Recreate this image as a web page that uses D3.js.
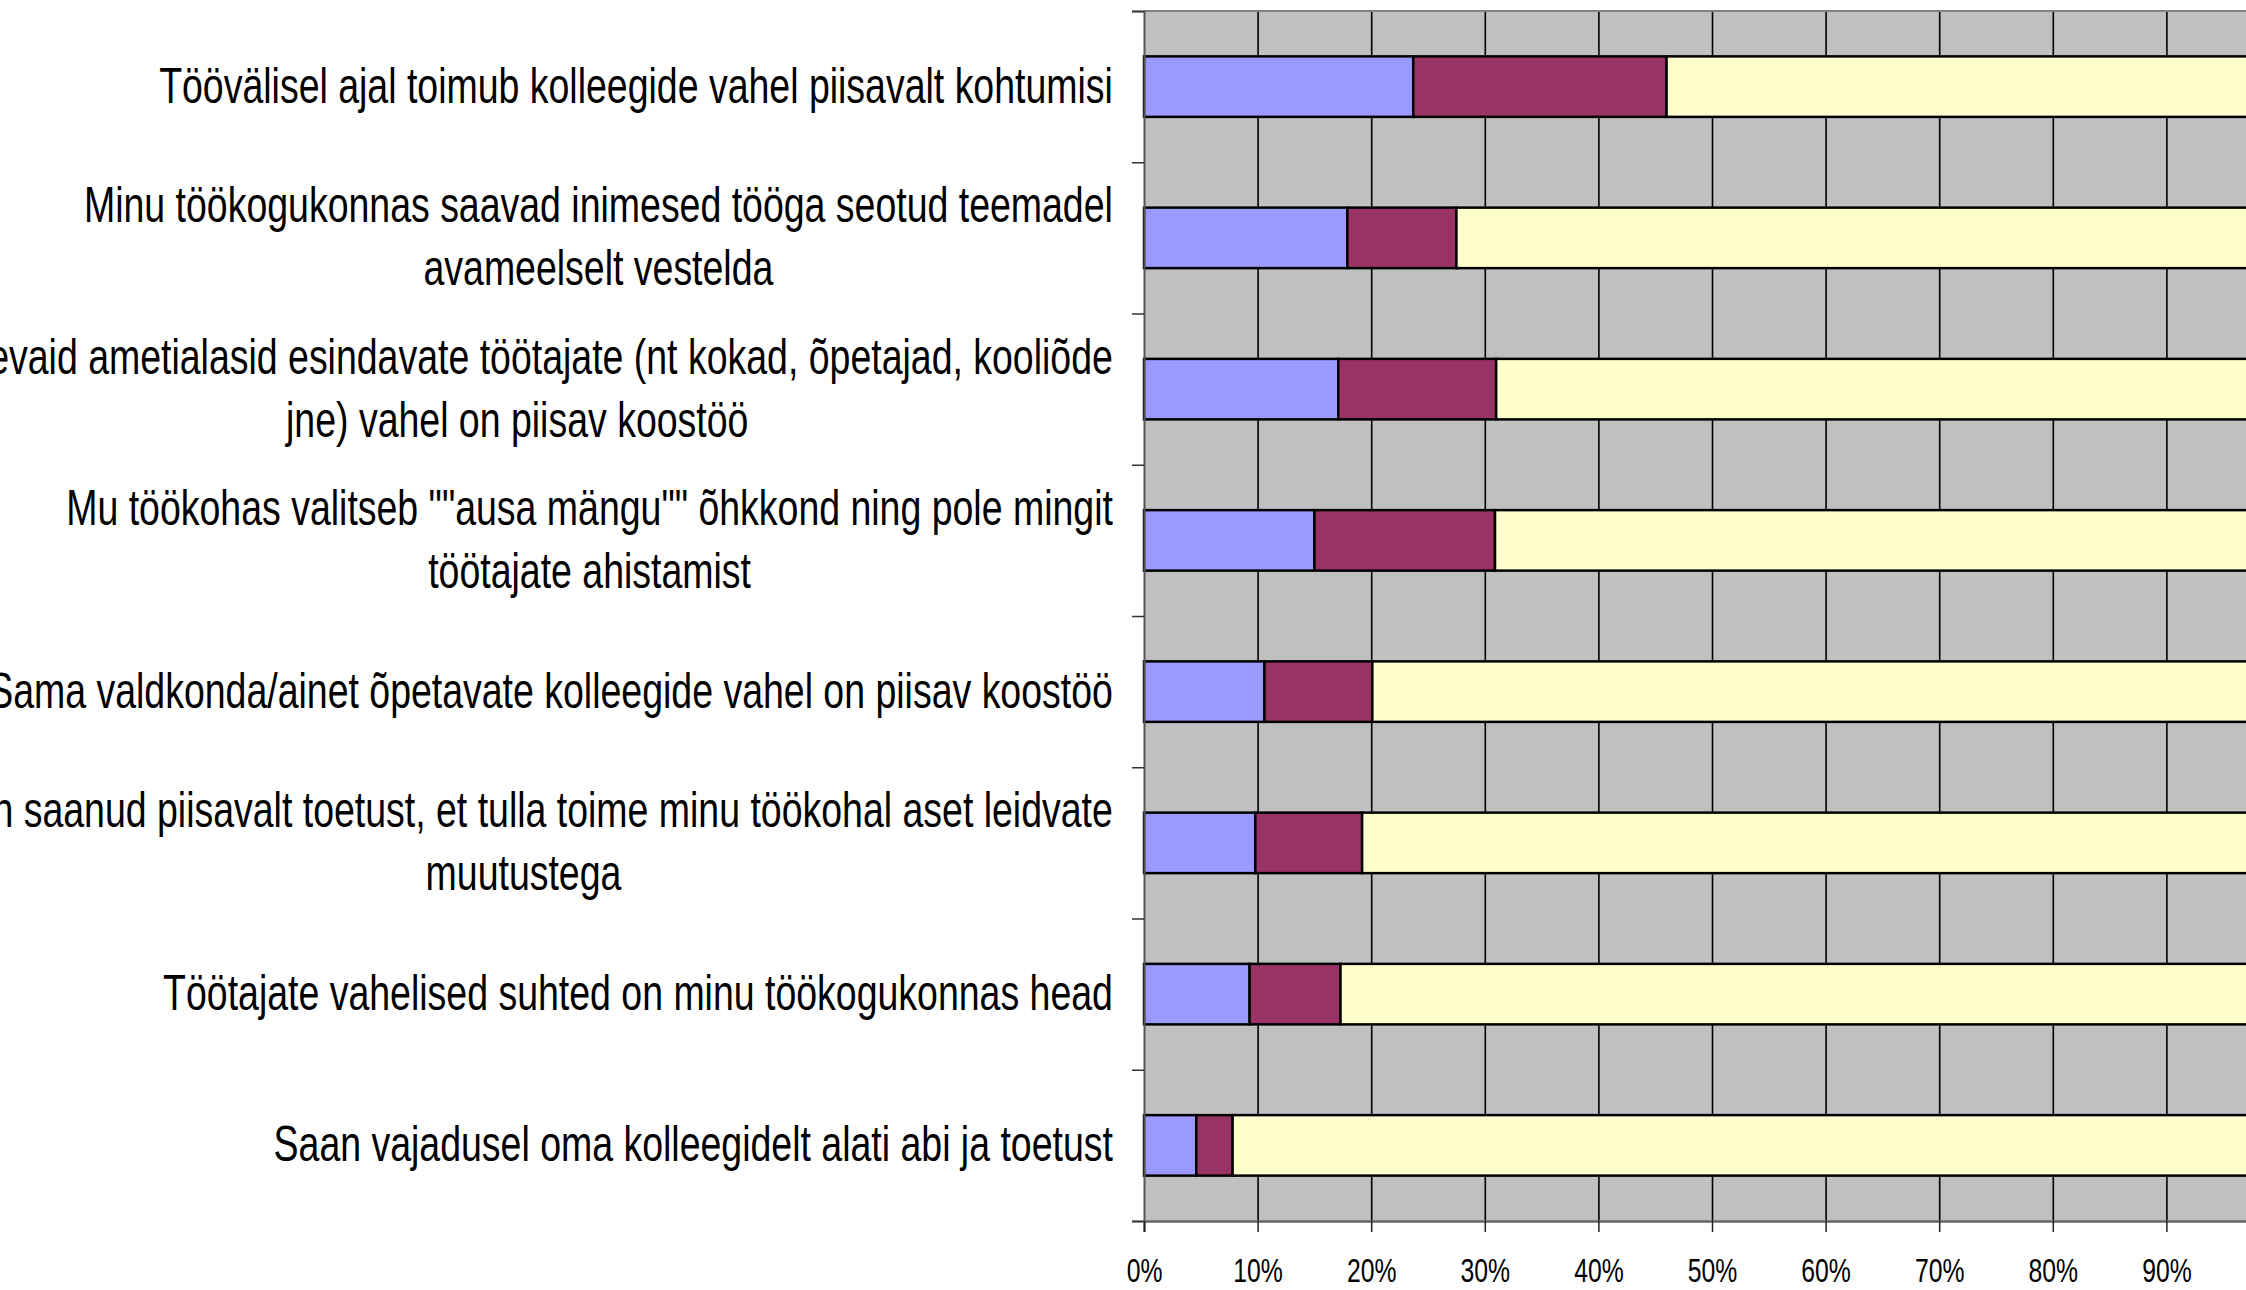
<!DOCTYPE html>
<html>
<head>
<meta charset="utf-8">
<script src="https://cdn.jsdelivr.net/npm/d3@7"></script>
<style>
  html, body { margin: 0; padding: 0; background: #fff; }
  svg { display: block; }
</style>
</head>
<body>
<svg id="chart" width="2246" height="1290"></svg>
<script>
// Values, in percent, top row first.
var categories = [
  "Töövälisel ajal toimub kolleegide vahel piisavalt kohtumisi",
  "Minu töökogukonnas saavad inimesed tööga seotud teemadel\navameelselt vestelda",
  "Erinevaid ametialasid esindavate töötajate (nt kokad, õpetajad, kooliõde\njne) vahel on piisav koostöö",
  "Mu töökohas valitseb \"\"ausa mängu\"\" õhkkond ning pole mingit\ntöötajate ahistamist",
  "Sama valdkonda/ainet õpetavate kolleegide vahel on piisav koostöö",
  "Olen saanud piisavalt toetust, et tulla toime minu töökohal aset leidvate\nmuutustega",
  "Töötajate vahelised suhted on minu töökogukonnas head",
  "Saan vajadusel oma kolleegidelt alati abi ja toetust"
];
var disagree = [23.7, 17.9, 17.1, 15.0, 10.6, 9.8, 9.3, 4.6];
var neutral  = [22.3, 9.6, 13.9, 15.9, 9.5, 9.4, 8.0, 3.2];
var agree    = [54.0, 72.5, 69.0, 69.1, 79.9, 80.8, 82.7, 92.2];
var seriesKeys = ["disagree", "neutral", "agree"];
var seriesColors = ["#9999ff", "#993366", "#ffffcc"];
// the 100% tick falls past the right edge of the picture
var tickValues = [0, 10, 20, 30, 40, 50, 60, 70, 80, 90];

var rows = categories.map(function(c, i) {
  return {category: c, disagree: disagree[i], neutral: neutral[i], agree: agree[i]};
});

var svg = d3.select("#chart");
var plotL = 1144, plotT = 11, plotR = 2280, plotB = 1221;

var x = d3.scaleLinear().domain([0, 100]).range([plotL, plotR]);
var y = d3.scaleBand()
    .domain(categories)
    .range([plotT, plotB])
    .paddingInner(0.6)
    .paddingOuter(0.3);
var yIdx = d3.scaleLinear().domain([0, categories.length]).range([plotT, plotB]);
var z = d3.scaleOrdinal().domain(seriesKeys).range(seriesColors);

// plot area
svg.append("rect")
    .attr("x", plotL).attr("y", plotT)
    .attr("width", plotR - plotL).attr("height", plotB - plotT)
    .attr("fill", "#c0c0c0");

// vertical gridlines
svg.append("g")
    .attr("transform", "translate(0," + plotT + ")")
    .call(d3.axisBottom(x).tickValues(tickValues.slice(1)).tickSize(plotB - plotT).tickFormat(""))
    .call(function(g) {
      g.select(".domain").remove();
      g.selectAll(".tick line").attr("stroke", "#000").attr("stroke-width", 1.6);
    });

// top border
svg.append("line")
    .attr("x1", plotL).attr("x2", plotR)
    .attr("y1", plotT).attr("y2", plotT)
    .attr("stroke", "#808080").attr("stroke-width", 2);

// stacked bars
var stack = d3.stack().keys(seriesKeys);
svg.append("g")
  .selectAll("g")
  .data(stack(rows))
  .enter().append("g")
    .attr("fill", function(d) { return z(d.key); })
  .selectAll("rect")
  .data(function(d) { return d; })
  .enter().append("rect")
    .attr("x", function(d) { return x(d[0]); })
    .attr("y", function(d) { return y(d.data.category); })
    .attr("width", function(d) { return x(d[1]) - x(d[0]); })
    .attr("height", y.bandwidth())
    .attr("stroke", "#000")
    .attr("stroke-width", 2.5);

// left axis: ticks at band boundaries
svg.append("g")
    .attr("transform", "translate(" + plotL + ",0)")
    .call(d3.axisLeft(yIdx).ticks(categories.length).tickSize(12).tickFormat(""))
    .call(function(g) {
      g.select(".domain").attr("stroke", "#555").attr("stroke-width", 2);
      g.selectAll(".tick line").attr("stroke", "#333").attr("stroke-width", 1.5);
    });

// bottom axis
svg.append("g")
    .attr("transform", "translate(0," + plotB + ")")
    .call(d3.axisBottom(x).tickValues(tickValues).tickSize(11).tickFormat(function(d) { return d + "%"; }))
    .call(function(g) {
      g.select(".domain").attr("stroke", "#666").attr("stroke-width", 2.5);
      g.selectAll(".tick line").attr("stroke", "#222").attr("stroke-width", 1.5);
      g.selectAll(".tick text")
          .attr("y", 61).attr("dy", 0)
          .attr("transform", "scale(0.75,1)")
          .attr("fill", "#000")
          .style("font-family", "'Liberation Sans', Arial, sans-serif")
          .style("font-size", "33px");
    });

// category labels: lines centered in a block right-aligned to the axis
var labelRight = 1113, lineGap = 63, fontSize = 50;
var labels = svg.append("g")
    .style("font-family", "'Liberation Sans', Arial, sans-serif")
    .style("font-size", fontSize + "px")
    .attr("fill", "#000");

var groups = categories.map(function(c) {
  var lines = c.split("\n");
  var g = labels.append("g");
  var widths = lines.map(function(l) {
    var t = g.append("text").attr("text-anchor", "middle").text(l);
    return t.node().getComputedTextLength();
  });
  return {cat: c, g: g, lines: lines, widths: widths};
});

// squeeze the text to the width of the first label in the picture
var sx = 954 / groups[0].widths[0];

groups.forEach(function(o) {
  var maxW = d3.max(o.widths) * sx;
  var cx = labelRight - maxW / 2;
  var cy = y(o.cat) + y.bandwidth() / 2;
  var n = o.lines.length;
  o.g.selectAll("text").each(function(d, i) {
    var ly = cy + (i - (n - 1) / 2) * lineGap + 16;
    d3.select(this)
        .attr("transform", "translate(" + cx + "," + ly + ") scale(" + sx + ",1)");
  });
});
</script>
</body>
</html>
